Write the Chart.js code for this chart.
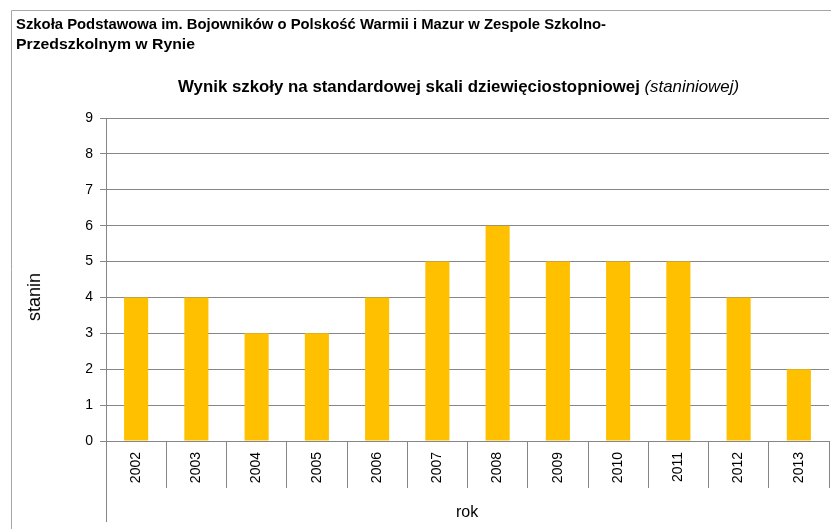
<!DOCTYPE html>
<html>
<head>
<meta charset="utf-8">
<script src="https://cdn.jsdelivr.net/npm/chart.js@4/dist/chart.umd.min.js"></script>
<style>
  body { margin: 0; background: #fff; }
  #wrap { position: relative; width: 831px; height: 529px; overflow: hidden; }
  #chart { position: absolute; left: 0; top: 0; }
  .txt { position: absolute; white-space: nowrap; font-family: "Liberation Sans", Arial, sans-serif; color: #000; font-weight: normal; transform-origin: 0 50%; }
  .head { font-weight: bold; font-size: 15px; line-height: 20px; }
  #sub { font-size: 17px; line-height: 22px; font-weight: bold; }
  #sub i { font-weight: normal; }
  #ytitle { font-size: 18px; line-height: 20px; transform-origin: 50% 50%; }
  #xtitle { font-size: 16px; line-height: 20px; }
</style>
</head>
<body>
<div id="wrap">
  <canvas id="chart" width="831" height="529"></canvas>
  <div class="txt head" id="h1" data-w="590" style="left:16px; top:14px;">Szkoła Podstawowa im. Bojowników o Polskość Warmii i Mazur w Zespole Szkolno-</div>
  <div class="txt head" id="h2" data-w="179" style="left:16px; top:34px;">Przedszkolnym w Rynie</div>
  <div class="txt" id="sub" data-w="561" style="left:178px; top:76px;">Wynik szkoły na standardowej skali dziewięciostopniowej <i>(staniniowej)</i></div>
  <div class="txt" id="ytitle">stanin</div>
  <div class="txt" id="xtitle">rok</div>
</div>
<script>
const CHART = document.getElementById("chart");

const YEARS = ["2002", "2003", "2004", "2005", "2006", "2007", "2008", "2009", "2010", "2011", "2012", "2013"];
const STANIN = [4, 4, 3, 3, 4, 5, 6, 5, 5, 5, 4, 2];
const Y_TICKS = [0, 1, 2, 3, 4, 5, 6, 7, 8, 9];

const LINE = "#868686";

// squeeze header texts to the width they take in the picture
document.querySelectorAll("[data-w]").forEach((el) => {
  let w = el.getBoundingClientRect().width;
  el.style.transform = "scaleX(" + (Number(el.dataset.w) / w) + ")";
});

function placeCentered(el, cx, cy) {
  let r = el.getBoundingClientRect();
  el.style.left = Math.round(cx - r.width / 2) + "px";
  el.style.top = Math.round(cy - r.height / 2) + "px";
}

// frame round the chart and the long left line under the axis
const framePlugin = {
  id: "frame",
  afterDraw(chart) {
    const ctx = chart.ctx;
    const area = chart.chartArea;
    ctx.save();
    ctx.strokeStyle = "#a6a6a6";
    ctx.lineWidth = 1;
    ctx.beginPath();
    ctx.moveTo(11.5, 529);
    ctx.lineTo(11.5, 10.5);
    ctx.lineTo(831, 10.5);
    ctx.stroke();
    ctx.strokeStyle = LINE;
    ctx.beginPath();
    ctx.moveTo(Math.round(area.left) + 0.5, area.bottom);
    ctx.lineTo(Math.round(area.left) + 0.5, 522);
    ctx.stroke();
    ctx.restore();
  },
};

let barChart = new Chart(CHART, {
  type: "bar",
  data: {
    labels: YEARS,
    datasets: [
      {
        label: "stanin",
        backgroundColor: "#ffc000",
        data: STANIN,
        categoryPercentage: 1,
        barPercentage: 0.4,
      },
    ],
  },
  plugins: [framePlugin],
  options: {
    responsive: false,
    animation: false,
    events: [],
    layout: { padding: { top: 118, right: 2, left: 0, bottom: 0 } },
    plugins: {
      legend: { display: false },
      tooltip: { enabled: false },
    },
    scales: {
      x: {
        afterFit: (scale) => { scale.height = 88; },
        grid: {
          offset: true,
          drawOnChartArea: false,
          color: LINE,
          tickLength: 47,
        },
        border: { color: LINE, width: 1 },
        ticks: {
          autoSkip: false,
          minRotation: 90,
          maxRotation: 90,
          padding: -36,
          color: "#000",
          font: { family: "Liberation Sans", size: 14 },
        },
      },
      y: {
        min: 0,
        max: 9,
        afterFit: (scale) => { scale.width = 106; },
        afterBuildTicks: (scale) => {
          scale.ticks = Y_TICKS.map((v) => ({ value: v }));
        },
        grid: { color: LINE, tickLength: 6 },
        border: { color: LINE, width: 1 },
        ticks: {
          padding: 7,
          color: "#000",
          font: { family: "Liberation Sans", size: 14 },
        },
      },
    },
  },
});

const area = barChart.chartArea;
const yTitle = document.getElementById("ytitle");
placeCentered(yTitle, 34, 297);
yTitle.style.transform = "rotate(-90deg)";
placeCentered(document.getElementById("xtitle"), (area.left + area.right) / 2, 512);
</script>
</body>
</html>
